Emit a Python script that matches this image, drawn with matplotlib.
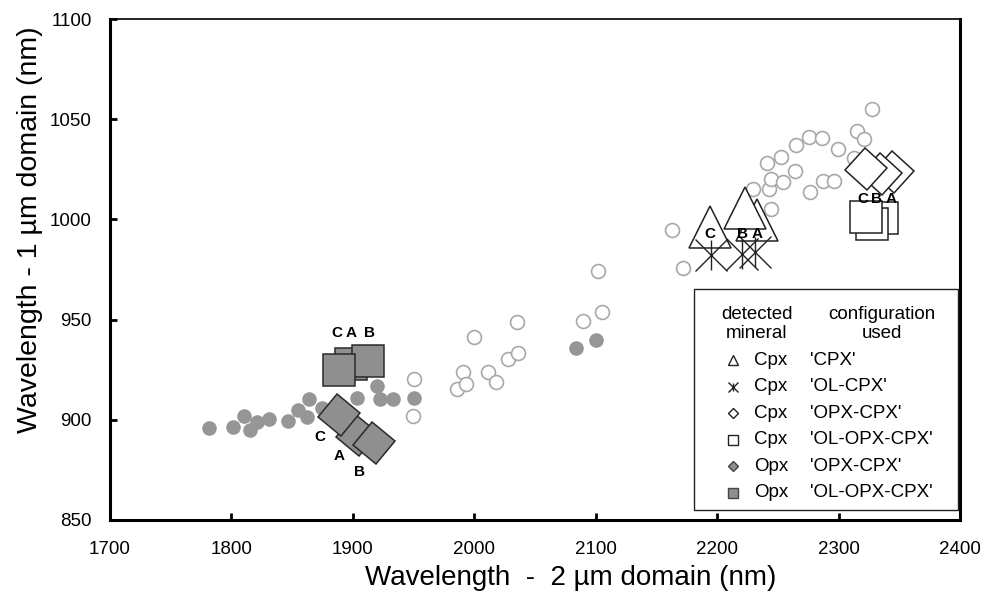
import matplotlib
matplotlib.use("Agg")
import matplotlib.pyplot as plt
from matplotlib.markers import MarkerStyle
from matplotlib.transforms import Affine2D
from matplotlib.patches import Rectangle

plt.rcParams['font.family'] = ['Liberation Sans', 'DejaVu Sans']

# small gray dots (Opx detections) and open circles (Cpx detections)
opx_x = [1781.5, 1801.3, 1810.4, 1815.3, 1821.1, 1831.0, 1846.6, 1854.8, 1862.2,
         1863.9, 1874.6, 1903.4, 1919.9, 1922.3, 1933.1, 1950.3, 2083.8, 2100.2]
opx_y = [895.9, 896.4, 901.9, 894.9, 898.9, 900.4, 899.4, 904.9, 901.4,
         910.4, 905.9, 910.9, 916.9, 910.4, 910.4, 910.9, 935.8, 939.8]

cpx_x = [1950.3, 1949.5, 1985.8, 1990.7, 1993.2, 1999.8, 2011.3, 2017.9, 2027.8,
         2035.2, 2036.0, 2089.5, 2101.9, 2105.2, 2162.8, 2171.9, 2229.5, 2241.0,
         2242.7, 2244.4, 2244.4, 2252.6, 2254.2, 2264.1, 2264.9, 2275.6, 2276.5,
         2286.3, 2287.2, 2296.2, 2299.5, 2312.7, 2315.2, 2320.9, 2327.5]
cpx_y = [920.4, 901.9, 915.4, 923.8, 917.9, 941.3, 923.8, 918.9, 930.3,
         948.8, 933.3, 949.3, 974.3, 953.8, 994.7, 975.7, 1015.2, 1028.1,
         1015.2, 1020.2, 1005.2, 1031.1, 1018.7, 1024.2, 1037.1, 1041.1, 1013.7,
         1040.6, 1019.2, 1019.2, 1035.1, 1030.6, 1044.1, 1040.1, 1055.1]

# mixture band positions for cases A, B, C
cases = ['A', 'B', 'C']
cpx_tri_x = [2233.2, 2222.7, 2194.5]
cpx_tri_y = [999.7, 1005.8, 996.2]
cpx_ast_x = [2231.2, 2220.5, 2194.7]
cpx_ast_y = [983.7, 982.7, 982.4]
cpx_dia_x = [2344.8, 2334.9, 2323.0]
cpx_dia_y = [1023.7, 1022.7, 1025.0]
cpx_sq_x = [2336.0, 2327.7, 2322.2]
cpx_sq_y = [1000.7, 997.7, 1001.1]
opx_dia_x = [1903.2, 1917.2, 1888.8]
opx_dia_y = [892.4, 888.3, 902.4]
opx_sq_x = [1898.3, 1912.7, 1888.2]
opx_sq_y = [927.9, 929.2, 925.1]

# letter labels next to the groups
lab_tri_x = [2232.8, 2220.5, 2194.1]
lab_tri_y = [992.7, 992.7, 992.7]
lab_sq_x = [2343.7, 2331.4, 2319.9]
lab_sq_y = [1010.0, 1010.0, 1010.0]
lab_osq_x = [1898.2, 1914.1, 1886.7]
lab_osq_y = [943.2, 943.2, 943.2]
lab_odia_x = [1888.8, 1905.3, 1872.9]
lab_odia_y = [881.9, 874.1, 891.6]

leg_marker = ['CPX', 'OL-CPX', 'OPX-CPX', 'OL-OPX-CPX', 'OPX-CPX', 'OL-OPX-CPX']
leg_mineral = ['Cpx', 'Cpx', 'Cpx', 'Cpx', 'Opx', 'Opx']

gray = '#969696'
dia_open = MarkerStyle('s', transform=Affine2D().rotate_deg(47))
dia_gray = MarkerStyle('s', transform=Affine2D().rotate_deg(50))

fig = plt.figure(figsize=(9.85, 5.97), dpi=100)
ax = fig.add_axes([0.1117, 0.129, 0.8629, 0.839])

ax.plot(cpx_x, cpx_y, 'o', ms=10, mfc='white', mec='#a8a8a8', mew=1.2, zorder=2)
ax.plot(opx_x, opx_y, 'o', ms=10.5, mfc=gray, mec='none', zorder=2)

for i in range(3):
    z = 3 + i
    ax.plot(cpx_tri_x[i], cpx_tri_y[i], '^', ms=30.5, mfc='white', mec='#222222', mew=1.1, zorder=z)
    ax.plot(cpx_ast_x[i], cpx_ast_y[i], 'x', ms=23, mec='#222222', mew=1.0, zorder=z)
    ax.plot(cpx_ast_x[i], cpx_ast_y[i], '|', ms=21, mec='#222222', mew=1.0, zorder=z)
    ax.plot(cpx_dia_x[i], cpx_dia_y[i], marker=dia_open, ms=21.2, mfc='white', mec='#222222', mew=1.1, zorder=z)
    ax.plot(cpx_sq_x[i], cpx_sq_y[i], 's', ms=23, mfc='white', mec='#222222', mew=1.1, zorder=z)
    ax.plot(opx_dia_x[i], opx_dia_y[i], marker=dia_gray, ms=21.6, mfc='#8f8f8f', mec='#2a2a2a', mew=1.1, zorder=z)
    ax.plot(opx_sq_x[i], opx_sq_y[i], 's', ms=22.7, mfc='#8f8f8f', mec='#2a2a2a', mew=1.1, zorder=z)

lab_sets = [(lab_tri_x, lab_tri_y), (lab_sq_x, lab_sq_y),
            (lab_osq_x, lab_osq_y), (lab_odia_x, lab_odia_y)]
for lx, ly in lab_sets:
    for i in range(3):
        ax.text(lx[i], ly[i], cases[i], fontsize=11, fontweight='bold',
                ha='center', va='center', zorder=10)

ax.set_xlim(1700, 2400)
ax.set_ylim(850, 1100)
ax.set_xticks(range(1700, 2401, 100))
ax.set_yticks(range(850, 1101, 50))
ax.tick_params(direction='in', length=5, width=2, labelsize=13.5)
ax.tick_params(axis='x', pad=15)
ax.tick_params(axis='y', pad=13)
for side in ['left', 'bottom', 'right']:
    ax.spines[side].set_linewidth(2.2)
ax.spines['top'].set_linewidth(1.2)

fig.text(571 / 985, 1 - 578 / 597, 'Wavelength  -  2 µm domain (nm)',
         fontsize=20, ha='center', va='center')
fig.text(30 / 985, 1 - 230 / 597, 'Wavelength - 1 µm domain (nm)',
         fontsize=20.5, ha='center', va='center', rotation=90)

# hand-built legend box
ax.add_patch(Rectangle((0.687, 0.02), 0.311, 0.441, transform=ax.transAxes,
                       fc='white', ec='#222222', lw=1.0, zorder=20))
ax.text(0.761, 0.391, 'detected\nmineral', transform=ax.transAxes, fontsize=13.5,
        ha='center', va='center', linespacing=1.15, zorder=21)
ax.text(0.908, 0.391, 'configuration\nused', transform=ax.transAxes, fontsize=13.5,
        ha='center', va='center', linespacing=1.15, zorder=21)

leg_styles = [
    dict(marker='^', mfc='white', mec='#222222', ms=7.5),
    dict(marker='x', mec='#222222', ms=6.5),
    dict(marker=MarkerStyle('s', transform=Affine2D().rotate_deg(45)), mfc='white', mec='#222222', ms=5.5),
    dict(marker='s', mfc='white', mec='#222222', ms=7),
    dict(marker=MarkerStyle('s', transform=Affine2D().rotate_deg(45)), mfc='#8f8f8f', mec='#444444', ms=5.5),
    dict(marker='s', mfc='#8f8f8f', mec='#444444', ms=7),
]
for i in range(6):
    yy = (520 - (360 + 26.6 * i)) / 501
    ax.plot(0.733, yy, transform=ax.transAxes, ls='none', mew=1.0,
            clip_on=False, zorder=22, **leg_styles[i])
    if i == 1:
        ax.plot(0.733, yy, '|', transform=ax.transAxes, ms=6, mec='#222222',
                mew=1.0, clip_on=False, zorder=22)
    ax.text(0.758, yy, leg_mineral[i], transform=ax.transAxes, fontsize=13.5,
            ha='left', va='center', zorder=21)
    ax.text(0.824, yy, "'" + leg_marker[i] + "'", transform=ax.transAxes,
            fontsize=13.5, ha='left', va='center', zorder=21)

fig.savefig('out.png', dpi=100)
